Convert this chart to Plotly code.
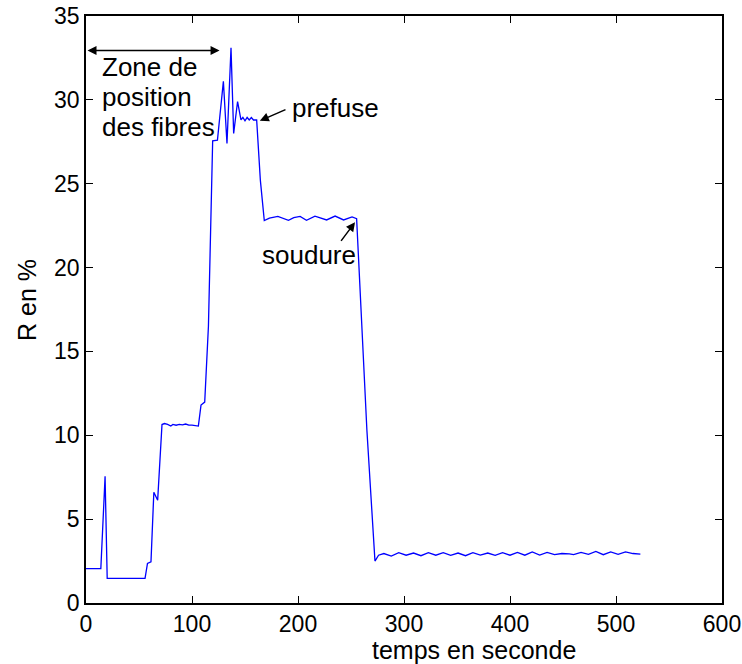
import plotly.graph_objects as go

# Mesure de R (%) en fonction du temps (s)
temps = [0, 3, 6, 10, 14, 18, 20, 25, 30, 35, 40, 45, 50, 55.7, 58, 61.3, 64, 67.6,
         71.7, 74, 77, 80, 82, 85, 88, 91, 94, 97, 100, 103.5, 106, 108.5, 112,
         115.5, 119.5, 124, 129.6, 133, 136.8, 139.3, 143, 146.2, 148, 150, 152,
         154, 156, 158, 161, 164.5, 168.2, 173, 181, 191, 196, 202, 208, 216, 222,
         227, 235, 243, 251, 255.3, 265, 272.6, 276, 281, 288, 295, 302, 309, 316,
         323, 330, 337, 344, 351, 358, 365, 372, 379, 386, 393, 400, 407, 414, 421,
         428, 435, 442, 449, 456, 460, 467, 474, 481, 488, 495, 502, 509, 516, 523]
r_pct = [2.05, 2.05, 2.05, 2.05, 2.05, 7.55, 1.47, 1.47, 1.48, 1.47, 1.48, 1.47, 1.47,
         1.47, 2.36, 2.46, 6.6, 6.13, 10.64, 10.7, 10.65, 10.55, 10.65, 10.6, 10.65,
         10.62, 10.67, 10.6, 10.6, 10.57, 10.55, 11.8, 11.98, 16.5, 27.56, 27.6, 31.1,
         27.4, 33.1, 28.0, 29.9, 28.8, 28.95, 28.75, 28.95, 28.8, 28.95, 28.8, 28.8,
         25.2, 22.8, 22.95, 23.05, 22.82, 22.98, 23.05, 22.82, 23.07, 22.95, 22.84,
         23.07, 22.84, 23.02, 22.92, 10.3, 2.5, 2.85, 2.95, 2.8, 3.0, 2.85, 2.98,
         2.82, 3.0, 2.85, 3.0, 2.84, 2.98, 2.82, 3.0, 2.86, 2.98, 2.84, 3.0, 2.85,
         3.02, 2.85, 3.05, 2.86, 3.02, 2.88, 2.95, 2.93, 2.88, 3.02, 2.9, 3.08, 2.88,
         3.05, 2.9, 3.05, 2.95, 2.92]

x_ticks = [0, 100, 200, 300, 400, 500, 600]
y_ticks = [0, 5, 10, 15, 20, 25, 30, 35]

famille = "Liberation Sans, Arial, sans-serif"
police_ticks = dict(family=famille, size=23, color="black")
police_titre = dict(family=famille, size=25, color="black")
police_texte = dict(family=famille, size=26, color="black")

fig = go.Figure()
fig.add_trace(go.Scatter(x=temps, y=r_pct, mode="lines",
                         line=dict(color="#0000ff", width=1.3), showlegend=False))

axe = dict(showline=True, linecolor="black", linewidth=1.5, mirror="ticks",
           ticks="inside", ticklen=7, tickcolor="black", tickwidth=1,
           showgrid=False, zeroline=False, tickfont=police_ticks, automargin=False,
           ticklabeloverflow="allow")

fig.update_layout(
    width=742, height=664,
    margin=dict(l=86, r=20, t=16, b=61),
    paper_bgcolor="white", plot_bgcolor="white",
    font=police_texte,
    xaxis=dict(range=[0, 600], tickvals=x_ticks, **axe),
    yaxis=dict(range=[0, 35], tickvals=y_ticks, **axe),
)

# titres des axes
fig.add_annotation(text="temps en seconde", xref="paper", yref="paper",
                   x=0.61, y=-0.08, showarrow=False, xanchor="center",
                   yanchor="middle", font=police_titre)
fig.add_annotation(text="R en %", xref="paper", yref="paper", textangle=-90,
                   x=-0.093, y=0.516, showarrow=False, xanchor="center",
                   yanchor="middle", font=police_titre)

# zone de position des fibres
fig.add_annotation(x=126, y=32.95, ax=0, ay=32.95, xref="x", yref="y",
                   axref="x", ayref="y", text="", showarrow=True,
                   arrowside="end+start", arrowhead=2, arrowsize=1.2, arrowwidth=1.5,
                   arrowcolor="black")
for ligne, yy in [("Zone de", 31.96), ("position", 30.18), ("des fibres", 28.39)]:
    fig.add_annotation(text=ligne, x=13.2, y=yy, xref="x", yref="y",
                       showarrow=False, xanchor="left", yanchor="middle")

# prefuse
fig.add_annotation(x=164, y=28.75, ax=189.6, ay=29.46, xref="x", yref="y",
                   axref="x", ayref="y", text="", showarrow=True, arrowhead=2,
                   arrowsize=1.2, arrowwidth=1.5, arrowcolor="black")
fig.add_annotation(text="prefuse", x=192.5, y=29.5, xref="x", yref="y",
                   showarrow=False, xanchor="left", yanchor="middle")

# soudure
fig.add_annotation(x=253.8, y=22.7, ax=239.6, ay=21.5, xref="x", yref="y",
                   axref="x", ayref="y", text="", showarrow=True, arrowhead=2,
                   arrowsize=1.2, arrowwidth=1.5, arrowcolor="black")
fig.add_annotation(text="soudure", x=210.4, y=20.77, xref="x", yref="y",
                   showarrow=False, xanchor="center", yanchor="middle")

# on retire la marge par défaut de la page et la barre d'outils
fig.write_html("out.html", config={"displayModeBar": False},
               post_script="document.body.style.margin = '0px';")
